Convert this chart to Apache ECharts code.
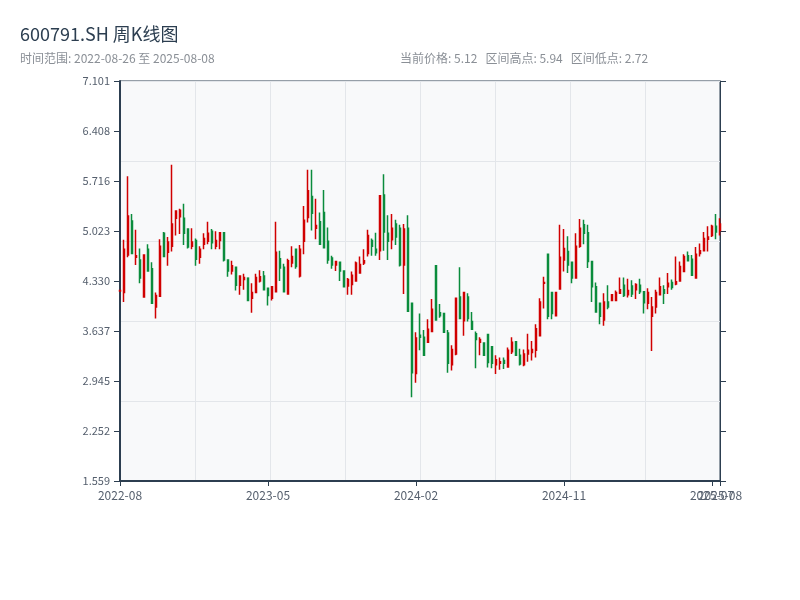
<!DOCTYPE html>
<html>
<head>
<meta charset="utf-8">
<script src="https://cdn.jsdelivr.net/npm/echarts@6/dist/echarts.min.js"></script>
<style>html,body{margin:0;padding:0;background:#fff}#chart{width:800px;height:600px}</style>
</head>
<body>
<div id="chart"></div>
<script>
const dates = [
'2022-08-26','2022-09-02','2022-09-09','2022-09-16','2022-09-23','2022-09-30',
'2022-10-14','2022-10-21','2022-10-28','2022-11-04','2022-11-11','2022-11-18','2022-11-25',
'2022-12-02','2022-12-09','2022-12-16','2022-12-23','2022-12-30',
'2023-01-06','2023-01-13','2023-01-20',
'2023-02-03','2023-02-10','2023-02-17','2023-02-24',
'2023-03-03','2023-03-10','2023-03-17','2023-03-24','2023-03-31',
'2023-04-07','2023-04-14','2023-04-21','2023-04-28',
'2023-05-05','2023-05-12','2023-05-19','2023-05-26',
'2023-06-02','2023-06-09','2023-06-16','2023-06-21','2023-06-30',
'2023-07-07','2023-07-14','2023-07-21','2023-07-28',
'2023-08-04','2023-08-11','2023-08-18','2023-08-25',
'2023-09-01','2023-09-08','2023-09-15','2023-09-22','2023-09-28',
'2023-10-13','2023-10-20','2023-10-27',
'2023-11-03','2023-11-10','2023-11-17','2023-11-24',
'2023-12-01','2023-12-08','2023-12-15','2023-12-22','2023-12-29',
'2024-01-05','2024-01-12','2024-01-19','2024-01-26',
'2024-02-02','2024-02-08','2024-02-23',
'2024-03-01','2024-03-08','2024-03-15','2024-03-22','2024-03-29',
'2024-04-03','2024-04-12','2024-04-19','2024-04-26',
'2024-04-30','2024-05-10','2024-05-17','2024-05-24','2024-05-31',
'2024-06-07','2024-06-14','2024-06-21','2024-06-28',
'2024-07-05','2024-07-12','2024-07-19','2024-07-26',
'2024-08-02','2024-08-09','2024-08-16','2024-08-23','2024-08-30',
'2024-09-06','2024-09-13','2024-09-20','2024-09-27',
'2024-09-30','2024-10-11','2024-10-18','2024-10-25',
'2024-11-01','2024-11-08','2024-11-15','2024-11-22','2024-11-29',
'2024-12-06','2024-12-13','2024-12-20','2024-12-27',
'2025-01-03','2025-01-10','2025-01-17','2025-01-24','2025-01-27',
'2025-02-07','2025-02-14','2025-02-21','2025-02-28',
'2025-03-07','2025-03-14','2025-03-21','2025-03-28',
'2025-04-03','2025-04-11','2025-04-18','2025-04-25',
'2025-04-30','2025-05-09','2025-05-16','2025-05-23','2025-05-30',
'2025-06-06','2025-06-13','2025-06-20','2025-06-27',
'2025-07-04','2025-07-11','2025-07-18','2025-07-25',
'2025-08-01','2025-08-08'
];

const openPrices = [
4.19,4.17,4.69,5.16,4.66,4.62,4.11,4.77,4.50,3.97,4.12,4.99,4.73,4.81,5.20,5.22,5.20,5.05,4.81,4.89,
4.66,4.84,4.88,5.02,4.81,4.89,5.00,4.62,4.47,4.52,4.27,4.35,4.37,4.09,4.17,4.33,4.40,4.23,4.09,4.18,
4.64,4.52,4.15,4.58,4.77,4.40,4.88,5.21,5.50,5.06,5.15,5.28,4.88,4.65,4.55,4.59,4.47,4.26,4.28,4.33,
4.44,4.58,4.71,4.89,4.77,4.75,5.52,4.99,4.90,5.12,5.06,4.55,5.06,4.02,3.05,3.58,3.55,3.48,3.63,4.54,
3.89,3.88,3.61,3.17,3.32,4.11,3.78,4.11,3.77,3.60,3.48,3.47,3.59,3.42,3.17,3.19,3.23,3.14,3.35,3.49,
3.30,3.17,3.32,3.34,3.37,3.57,4.30,4.70,4.17,3.85,4.22,4.62,4.74,4.59,4.37,4.81,5.11,5.00,4.60,4.25,
4.02,3.79,4.04,4.06,4.06,4.16,4.27,4.14,4.26,4.21,4.27,4.18,4.02,3.84,3.97,4.14,4.21,4.25,4.31,4.29,
4.33,4.46,4.68,4.63,4.37,4.71,4.75,4.91,4.96,5.09,5.03
];
const closePrices = [
4.20,4.77,5.23,4.71,4.68,4.37,4.69,4.47,4.02,4.13,4.81,4.67,4.87,5.12,5.30,5.31,4.99,4.80,4.87,4.63,
4.77,4.92,4.99,4.86,4.89,5.00,4.62,4.47,4.54,4.27,4.40,4.38,4.06,4.17,4.38,4.39,4.21,4.13,4.25,4.73,
4.51,4.18,4.61,4.67,4.53,4.77,5.17,5.58,5.27,5.10,4.84,4.79,4.62,4.55,4.60,4.47,4.25,4.35,4.41,4.58,
4.56,4.61,4.96,4.81,4.72,5.51,5.01,4.88,5.06,4.94,4.55,5.05,3.91,3.06,3.54,3.55,3.30,3.66,3.94,3.79,
3.85,3.62,3.19,3.38,4.09,3.81,4.17,3.81,3.66,3.52,3.52,3.30,3.20,3.19,3.24,3.21,3.19,3.37,3.48,3.30,
3.18,3.32,3.37,3.38,3.67,4.04,4.31,3.84,3.88,4.17,4.66,4.78,4.55,4.37,4.81,5.06,4.99,4.60,4.25,3.90,
3.84,4.04,3.97,4.14,4.17,4.21,4.13,4.20,4.15,4.28,4.18,4.03,4.17,3.97,4.17,4.25,4.16,4.30,4.24,4.32,
4.53,4.67,4.61,4.41,4.70,4.75,4.92,4.94,5.09,5.01,5.12
];
const lowPrices = [
4.18,4.04,4.66,4.70,4.55,4.30,4.10,4.47,4.01,3.81,4.11,4.66,4.54,4.74,4.96,4.98,4.83,4.78,4.77,4.54,
4.57,4.77,4.84,4.77,4.77,4.77,4.60,4.39,4.42,4.20,4.14,4.21,4.06,3.89,4.17,4.31,4.20,3.99,4.06,4.17,
4.33,4.18,4.14,4.52,4.50,4.38,4.70,5.14,5.03,4.91,4.83,4.79,4.57,4.50,4.47,4.33,4.24,4.14,4.14,4.32,
4.43,4.55,4.67,4.68,4.68,4.62,4.75,4.62,4.77,4.83,4.53,4.15,3.91,2.72,2.92,3.37,3.30,3.47,3.63,3.78,
3.82,3.62,3.06,3.09,3.30,3.81,3.57,3.77,3.65,3.12,3.30,3.30,3.13,3.12,3.04,3.10,3.11,3.14,3.32,3.30,
3.16,3.15,3.21,3.23,3.27,3.56,3.95,3.80,3.80,3.84,4.21,4.46,4.44,4.30,4.37,4.79,4.84,4.51,4.04,3.90,
3.73,3.71,3.94,4.05,4.05,4.15,4.11,4.10,4.11,4.08,4.15,3.88,3.94,3.36,3.88,4.13,4.01,4.15,4.21,4.27,
4.33,4.45,4.60,4.41,4.37,4.67,4.74,4.74,4.94,4.91,4.96
];
const highPrices = [
4.21,4.90,5.78,5.26,5.04,4.78,4.70,4.84,4.59,4.17,4.91,5.01,4.94,5.94,5.30,5.33,5.40,5.05,5.06,4.92,
4.81,4.99,5.15,5.05,5.02,5.00,5.00,4.63,4.61,4.53,4.41,4.43,4.37,4.30,4.43,4.48,4.47,4.24,4.26,5.15,
4.75,4.57,4.64,4.81,4.77,4.83,5.37,5.87,5.87,5.47,5.28,5.59,5.07,4.68,4.61,4.59,4.48,4.37,4.46,4.60,
4.67,4.77,5.04,4.92,5.00,5.51,5.81,5.24,5.26,5.18,5.11,5.12,5.24,4.02,3.62,3.88,3.65,3.80,4.08,4.54,
4.01,3.88,3.65,3.44,4.09,4.52,4.17,4.16,3.90,3.63,3.55,3.48,3.59,3.42,3.30,3.27,3.27,3.41,3.55,3.50,
3.39,3.38,3.60,3.50,3.73,4.09,4.39,4.70,4.17,4.17,5.11,5.05,4.95,4.59,4.99,5.19,5.18,5.11,4.60,4.31,
4.02,4.16,4.27,4.15,4.20,4.38,4.38,4.36,4.34,4.30,4.36,4.19,4.23,4.11,4.21,4.38,4.27,4.44,4.35,4.67,
4.60,4.70,4.74,4.69,4.80,4.85,5.01,5.09,5.11,5.26,5.20
];

const yMin = 1.559, yMax = 7.101, yStep = 0.69275;
const xLabelStep = 37;
const titleText = '600791.SH 周K线图';
const rangeText = '时间范围: 2022-08-26 至 2025-08-08';
const statsText = '当前价格: 5.12   区间高点: 5.94   区间低点: 2.72';

const candleData = dates.map((d, i) => [openPrices[i], closePrices[i], lowPrices[i], highPrices[i]]);

const fontFamily = 'Noto Sans CJK SC';
const axisColor = '#2c3e50';
const labelColor = '#555f6d';
const gridLineColor = '#e3e6ea';
const lastIndex = dates.length - 1;
const isLabelIdx = (idx) => idx % xLabelStep === 0 || idx === lastIndex;

const chart = echarts.init(document.getElementById('chart'));
chart.setOption({
  animation: false,
  backgroundColor: '#ffffff',
  textStyle: {fontFamily: fontFamily},
  title: [
    {text: titleText, left: 20, top: 25, padding: 0, textStyle: {fontFamily: fontFamily, fontSize: 18, fontWeight: 'normal', color: '#2c3e50'}},
    {text: rangeText, left: 20, top: 52, padding: 0, textStyle: {fontFamily: fontFamily, fontSize: 12, fontWeight: 'normal', color: '#8a8f96'}},
    {text: statsText, left: 400, top: 52, padding: 0, textStyle: {fontFamily: fontFamily, fontSize: 12, fontWeight: 'normal', color: '#8a8f96'}}
  ],
  grid: {left: 120, right: 80, top: 81, bottom: 119, show: true, backgroundColor: '#f8f9fa', borderColor: axisColor, borderWidth: 1},
  xAxis: [
    {
      type: 'category', data: dates, boundaryGap: false,
      axisLine: {show: true, lineStyle: {color: axisColor, width: 2}},
      axisTick: {show: true, length: 5, interval: (idx) => isLabelIdx(idx), lineStyle: {color: axisColor}},
      axisLabel: {
        color: labelColor, fontSize: 12, fontFamily: fontFamily, hideOverlap: false,
        interval: 0,
        formatter: (v, idx) => isLabelIdx(idx) ? v.slice(0, 7) : ''
      },
      splitLine: {show: false}
    },
    {
      type: 'value', min: 0, max: 8, interval: 1, position: 'top',
      axisLine: {show: false}, axisTick: {show: false}, axisLabel: {show: false},
      splitLine: {show: true, lineStyle: {color: gridLineColor, width: 1}}
    }
  ],
  yAxis: [
    {
      type: 'value', min: yMin, max: yMax, interval: yStep, position: 'left',
      axisLine: {show: true, lineStyle: {color: axisColor, width: 2}},
      axisTick: {show: true, length: 6, lineStyle: {color: axisColor}},
      axisLabel: {color: labelColor, fontSize: 11, fontFamily: fontFamily, margin: 10, formatter: v => (v + 1e-9).toFixed(3)},
      splitLine: {show: false}
    },
    {
      type: 'value', min: yMin, max: yMax, interval: yStep, position: 'right',
      axisLine: {show: true, lineStyle: {color: axisColor, width: 1}},
      axisTick: {show: true, length: 6, lineStyle: {color: axisColor}},
      axisLabel: {show: false}, splitLine: {show: false}
    },
    {
      type: 'value', min: 0, max: 5, interval: 1, position: 'left',
      axisLine: {show: false}, axisTick: {show: false}, axisLabel: {show: false},
      splitLine: {show: true, lineStyle: {color: gridLineColor, width: 1}}
    }
  ],
  series: [{
    type: 'candlestick', xAxisIndex: 0, yAxisIndex: 0,
    data: candleData, barWidth: 2.4,
    itemStyle: {color: '#ee3535', color0: '#0a8c3c', borderColor: '#d00000', borderColor0: '#0a8c3c', borderWidth: 1.5}
  }]
});
</script>
</body>
</html>
